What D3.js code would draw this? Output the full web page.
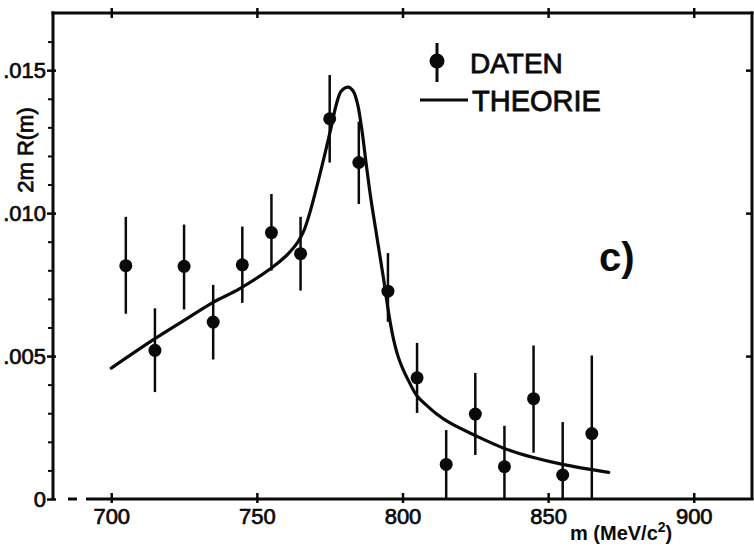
<!DOCTYPE html>
<html>
<head>
<meta charset="utf-8">
<script src="https://cdn.jsdelivr.net/npm/d3@7"></script>
<style>
  html, body { margin: 0; padding: 0; background: #fff; }
  svg { display: block; font-family: "Liberation Sans", Arial, sans-serif; }
</style>
</head>
<body>
<div id="chart"></div>
<script>
// Messpunkte (DATEN)
const masses = [705, 715, 725, 735, 745, 755, 765, 775, 785, 795, 805, 815, 825, 835, 845, 855, 865];
const values = [0.00816, 0.0052, 0.00814, 0.00619, 0.00819, 0.00932, 0.00858, 0.0133, 0.01177, 0.00727,
  0.00424, 0.00121, 0.00297, 0.00113, 0.00351, 0.00084, 0.00229];
const errTop = [0.00987, 0.00667, 0.0096, 0.00749, 0.00953, 0.01067, 0.00987, 0.01483, 0.0132, 0.0086,
  0.00546, 0.00241, 0.00441, 0.00256, 0.00537, 0.00269, 0.00502];
const errBottom = [0.00648, 0.00374, 0.00663, 0.00488, 0.00686, 0.00799, 0.00729, 0.01177, 0.01032, 0.0062,
  0.00301, 0, 0.00154, 0, 0.00162, 0, 0];

// Theoriekurve (THEORIE)
const theoryMass = [700, 715, 725, 735, 744, 755, 760, 762, 764, 766, 768, 770, 772, 775.5, 777.3, 779,
  781.3, 783, 784.5, 786, 787.5, 789, 791, 793.5, 795.5, 797, 798.5, 800, 802, 805, 808, 811.5, 816,
  825, 835, 845, 855, 870.8];
const theoryValues = [0.00458, 0.00561, 0.00625, 0.00688, 0.00735, 0.00808, 0.0085, 0.00872, 0.00898,
  0.00935, 0.00995, 0.0107, 0.0115, 0.013, 0.01381, 0.01427, 0.01441, 0.01428, 0.01385, 0.01295, 0.01175,
  0.0106, 0.0093, 0.0077, 0.00635, 0.00555, 0.00498, 0.00458, 0.00415, 0.0036, 0.0033, 0.00299, 0.00268,
  0.00222, 0.00177, 0.00145, 0.00121, 0.00093];

// Achsen
const xTicks = [700, 750, 800, 850, 900];
const yTicks = [0, 0.005, 0.010, 0.015];
const yTickLabels = ['0', '.005', '.010', '.015'];
const yMinorTicks = [0.001, 0.002, 0.003, 0.004, 0.006, 0.007, 0.008, 0.009, 0.011, 0.012, 0.013, 0.014, 0.016];
const rightTicks = [0.005, 0.010, 0.015];

const width = 754;
const height = 546;
const margin = { top: 13, right: 2, bottom: 47, left: 53 };
const ink = '#0a0a0a';

const x = d3.scaleLinear().domain([680, 920]).range([margin.left, width - margin.right]);
const y = d3.scaleLinear().domain([0, 0.017]).range([height - margin.bottom, margin.top]);

const svg = d3.select('#chart').append('svg')
  .attr('width', width)
  .attr('height', height)
  .attr('viewBox', `0 0 ${width} ${height}`);

const x0 = margin.left, x1 = width - margin.right;
const y0 = height - margin.bottom, y1 = margin.top;

// Schrift etwas kräftiger (Schablonenschrift)
const heavy = (sel, w) => sel.attr('stroke', ink).attr('stroke-width', w).attr('paint-order', 'stroke');

// Rahmen
const frame = svg.append('g').attr('stroke', ink).attr('stroke-width', 3).attr('fill', 'none');
frame.append('line').attr('x1', x0).attr('x2', x0).attr('y1', y1 - 1.5).attr('y2', y0);
frame.append('line').attr('x1', x0 - 1.5).attr('x2', x1 + 1.5).attr('y1', y1).attr('y2', y1);
frame.append('line').attr('x1', x1).attr('x2', x1).attr('y1', y1 - 1.5).attr('y2', y0 + 1);
// unten: gestrichelter Anfang, dann durchgezogen
frame.append('line').attr('x1', x0 + 15).attr('x2', x0 + 24).attr('y1', y0).attr('y2', y0);
frame.append('line').attr('x1', x0 + 33).attr('x2', x1 + 1.5).attr('y1', y0).attr('y2', y0);

const styleAxis = (g) => g.attr('font-size', null).attr('font-family', null)
  .call((g) => g.select('.domain').remove())
  .call((g) => g.selectAll('.tick line').attr('stroke', ink).attr('stroke-width', 2.5))
  .call((g) => g.selectAll('.tick text').attr('fill', ink).attr('font-size', 22).call(heavy, 0.7));

// linke Achse
svg.append('g')
  .attr('transform', `translate(${x0},0)`)
  .call(d3.axisLeft(y).tickValues(yTicks).tickFormat((d, i) => yTickLabels[i]).tickSize(6).tickPadding(1))
  .call(styleAxis)
  .call((g) => g.selectAll('.tick line').attr('x1', 3));

svg.append('g')
  .attr('transform', `translate(${x0},0)`)
  .call(d3.axisLeft(y).tickValues(yMinorTicks).tickFormat('').tickSize(5))
  .call(styleAxis)
  .call((g) => g.selectAll('.tick line').attr('stroke-width', 2));

// rechte Achse
svg.append('g')
  .attr('transform', `translate(${x1},0)`)
  .call(d3.axisLeft(y).tickValues(rightTicks).tickFormat('').tickSize(6))
  .call(styleAxis);

// obere Achse
svg.append('g')
  .attr('transform', `translate(0,${y1})`)
  .call(d3.axisTop(x).tickValues(xTicks).tickFormat('').tickSize(5))
  .call(styleAxis)
  .call((g) => g.selectAll('.tick line').attr('y1', 5));

// untere Achse
svg.append('g')
  .attr('transform', `translate(0,${y0})`)
  .call(d3.axisBottom(x).tickValues(xTicks).tickFormat(d3.format('d')).tickSize(4).tickPadding(5))
  .call(styleAxis)
  .call((g) => g.selectAll('.tick line').attr('y1', -6));

// Achsentitel
svg.append('text')
  .attr('transform', `translate(33,150) rotate(-90)`)
  .attr('text-anchor', 'middle')
  .attr('font-size', 22)
  .attr('fill', ink)
  .call(heavy, 0.8)
  .text('2m R(m)');

const xTitle = svg.append('text')
  .attr('x', 570)
  .attr('y', 540)
  .attr('font-size', 20)
  .attr('font-weight', 'bold')
  .attr('fill', ink);
xTitle.append('tspan').text('m (MeV/c');
xTitle.append('tspan').attr('font-size', 14).attr('dy', -8).text('2');
xTitle.append('tspan').attr('dy', 8).text(')');

// Theoriekurve
const line = d3.line()
  .x((d, i) => x(theoryMass[i]))
  .y((d) => y(d))
  .curve(d3.curveCatmullRom.alpha(0.5));

svg.append('path')
  .datum(theoryValues)
  .attr('d', line)
  .attr('fill', 'none')
  .attr('stroke', ink)
  .attr('stroke-width', 3.2)
  .attr('stroke-linecap', 'round')
  .attr('stroke-linejoin', 'round');

// Fehlerbalken und Punkte
const pts = svg.append('g');
pts.selectAll('line')
  .data(masses)
  .enter()
  .append('line')
  .attr('x1', (d) => x(d))
  .attr('x2', (d) => x(d))
  .attr('y1', (d, i) => y(errTop[i]))
  .attr('y2', (d, i) => y(errBottom[i]))
  .attr('stroke', ink)
  .attr('stroke-width', 2.5);

pts.selectAll('circle')
  .data(masses)
  .enter()
  .append('circle')
  .attr('cx', (d) => x(d))
  .attr('cy', (d, i) => y(values[i]))
  .attr('r', 6.5)
  .attr('fill', ink);

// Legende
const legend = svg.append('g').attr('fill', ink);
legend.append('line').attr('x1', 437).attr('x2', 437).attr('y1', 43).attr('y2', 82)
  .attr('stroke', ink).attr('stroke-width', 3);
legend.append('circle').attr('cx', 437).attr('cy', 61).attr('r', 7.5);
legend.append('text').attr('x', 470).attr('y', 73).attr('font-size', 28).call(heavy, 0.8).text('DATEN');
legend.append('line').attr('x1', 420).attr('x2', 468).attr('y1', 100).attr('y2', 100)
  .attr('stroke', ink).attr('stroke-width', 3);
legend.append('text').attr('x', 472).attr('y', 111).attr('font-size', 29).call(heavy, 0.8).text('THEORIE');

// Panel-Bezeichnung
svg.append('text')
  .attr('x', 599)
  .attr('y', 271)
  .attr('font-size', 40)
  .attr('font-weight', 'bold')
  .attr('fill', ink)
  .text('c)');
</script>
</body>
</html>
